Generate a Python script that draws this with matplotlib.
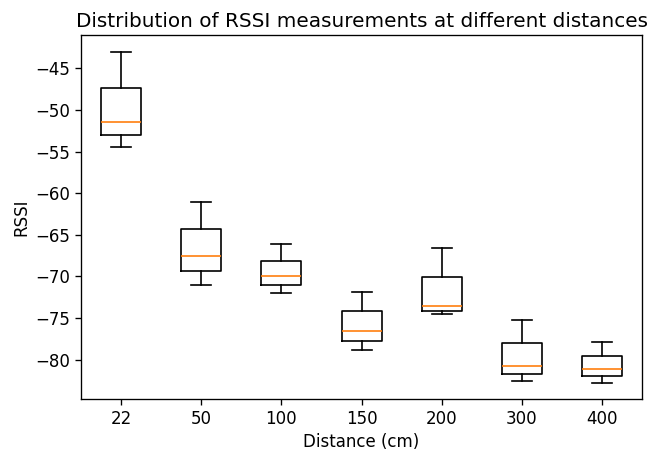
import matplotlib
matplotlib.use("Agg")
import matplotlib.pyplot as plt

# distances (cm) and box statistics
distances = ["22", "50", "100", "150", "200", "300", "400"]
whislo = [-54.4, -71.0, -72.0, -78.8, -74.5, -82.6, -82.75]
q1 = [-52.95, -69.3, -71.0, -77.7, -74.1, -81.7, -81.95]
med = [-51.5, -67.5, -70.0, -76.5, -73.55, -80.75, -81.1]
q3 = [-47.3, -64.3, -68.1, -74.2, -70.05, -78.0, -79.5]
whishi = [-43.0, -61.05, -66.05, -71.85, -66.6, -75.25, -77.9]

# reference looks like a hi-dpi render scaled down, so bump sizes ~1.2x
s = 1.2
plt.rcParams.update({
    "font.size": 10 * s,
    "axes.titlesize": 12 * s,
    "axes.linewidth": 0.8 * s,
    "xtick.major.size": 3.5 * s,
    "ytick.major.size": 3.5 * s,
    "xtick.major.width": 0.8 * s,
    "ytick.major.width": 0.8 * s,
    "boxplot.boxprops.linewidth": 1.0 * s,
    "boxplot.whiskerprops.linewidth": 1.0 * s,
    "boxplot.capprops.linewidth": 1.0 * s,
    "boxplot.medianprops.linewidth": 1.0 * s,
})

stats = []
for i, d in enumerate(distances):
    stats.append({
        "label": d,
        "whislo": whislo[i],
        "q1": q1[i],
        "med": med[i],
        "q3": q3[i],
        "whishi": whishi[i],
        "fliers": [],
    })

fig, ax = plt.subplots(figsize=(6.48, 4.51), dpi=100)
fig.subplots_adjust(left=0.125, right=0.991, top=0.922, bottom=0.115)

ax.bxp(stats, showfliers=False)

ax.set_title("Distribution of RSSI measurements at different distances")
ax.set_xlabel("Distance (cm)")
ax.set_ylabel("RSSI")

fig.savefig("out.png", dpi=100)
